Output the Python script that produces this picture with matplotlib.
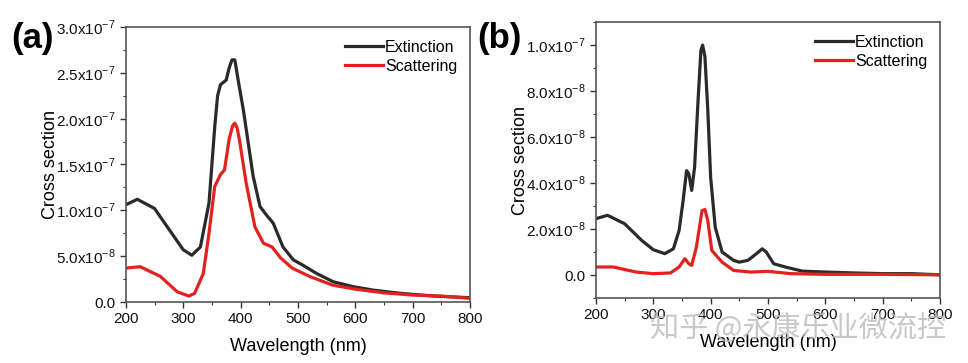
import matplotlib.pyplot as plt
from matplotlib.ticker import MultipleLocator

plt.rcParams['font.family'] = ['Liberation Sans', 'DejaVu Sans']
plt.rcParams['mathtext.fontset'] = 'custom'
plt.rcParams['mathtext.rm'] = 'Liberation Sans'

# panel (a) data, cross sections in units of 1e-7
wl_a_ext = [200, 220, 250, 280, 300, 315, 330, 345, 355, 360, 365, 375, 380, 385, 390, 395, 405, 422, 434,
            445, 457, 474, 492, 509, 533, 562, 597, 631, 678, 736, 800]
ext_a = [1.06, 1.12, 1.02, 0.75, 0.57, 0.51, 0.60, 1.08, 1.91, 2.25, 2.37, 2.42, 2.55, 2.64, 2.64, 2.45, 2.09,
         1.37, 1.04, 0.95, 0.86, 0.60, 0.46, 0.40, 0.31, 0.22, 0.167, 0.13, 0.095, 0.065, 0.047]
wl_a_sca = [200, 225, 260, 290, 310, 320, 335, 345, 355, 365, 372, 380, 386, 390, 394, 398, 410, 425,
            440, 455, 470, 490, 520, 560, 600, 650, 700, 750, 800]
sca_a = [0.37, 0.385, 0.28, 0.11, 0.065, 0.095, 0.31, 0.75, 1.26, 1.39, 1.44, 1.77, 1.92, 1.95, 1.90, 1.77,
         1.29, 0.82, 0.64, 0.60, 0.48, 0.37, 0.28, 0.185, 0.14, 0.10, 0.076, 0.065, 0.04]

# panel (b) data, cross sections in units of 1e-8
wl_b_ext = [200, 220, 250, 280, 300, 320, 335, 345, 352, 358, 362, 367, 372, 378, 383, 386, 390, 395,
            400, 408, 420, 440, 450, 465, 480, 490, 497, 510, 530, 560, 600, 650, 700, 750, 800]
ext_b = [2.45, 2.6, 2.23, 1.5, 1.1, 0.93, 1.14, 1.94, 3.24, 4.54, 4.4, 3.68, 4.69, 7.58, 9.77, 10.0, 9.5, 7.2,
         4.25, 2.08, 1.0, 0.64, 0.56, 0.64, 0.93, 1.14, 1.0, 0.49, 0.35, 0.17, 0.13, 0.09, 0.06, 0.06, 0.01]
wl_b_sca = [200, 230, 270, 300, 330, 345, 355, 362, 367, 375, 385, 390, 395, 402, 420, 440, 470,
            500, 540, 600, 700, 800]
sca_b = [0.35, 0.35, 0.13, 0.06, 0.09, 0.35, 0.71, 0.49, 0.42, 1.2, 2.8, 2.85, 2.37, 1.07, 0.56, 0.2, 0.13,
         0.16, 0.06, 0.03, 0.03, 0.01]

yticks_a = [0, 0.5e-7, 1.0e-7, 1.5e-7, 2.0e-7, 2.5e-7, 3.0e-7]
ylabels_a = ['0.0', r'5.0x10$^{-8}$', r'1.0x10$^{-7}$', r'1.5x10$^{-7}$',
             r'2.0x10$^{-7}$', r'2.5x10$^{-7}$', r'3.0x10$^{-7}$']
yticks_b = [0, 2e-8, 4e-8, 6e-8, 8e-8, 1e-7]
ylabels_b = ['0.0', r'2.0x10$^{-8}$', r'4.0x10$^{-8}$', r'6.0x10$^{-8}$',
             r'8.0x10$^{-8}$', r'1.0x10$^{-7}$']
xticks = [200, 300, 400, 500, 600, 700, 800]

black = '#2a2a2a'
red = '#e3211f'

fig = plt.figure(figsize=(9.68, 3.63), dpi=100)
ax1 = fig.add_axes([0.130, 0.168, 0.3555, 0.758])
ax2 = fig.add_axes([0.6157, 0.179, 0.3553, 0.760])


def style(ax, yticks, ylabels, ylim):
    ax.set_xlim(200, 800)
    ax.set_ylim(*ylim)
    ax.set_xticks(xticks)
    ax.xaxis.set_minor_locator(MultipleLocator(50))
    ax.set_yticks(yticks)
    ax.set_yticklabels(ylabels)
    step = yticks[1] - yticks[0]
    ax.yaxis.set_minor_locator(MultipleLocator(step / 2))
    ax.tick_params(which='major', direction='out', length=4, width=1, labelsize=11, colors='#333333',
                   labelcolor='#111111')
    ax.tick_params(which='minor', direction='out', length=2.5, width=0.8, colors='#333333')
    for s in ax.spines.values():
        s.set_color('#555555')
        s.set_linewidth(1.2)
    ax.set_xlabel('Wavelength (nm)', fontsize=13, labelpad=8)
    ax.set_ylabel('Cross section', fontsize=13, labelpad=-2)
    ax.legend(loc='upper right', frameon=False, fontsize=11.5, handlelength=2.4,
              handletextpad=0.1, labelspacing=0.25, borderaxespad=0.4)


ax1.plot(wl_a_ext, [v * 1e-7 for v in ext_a], color=black, lw=2.3, label='Extinction')
ax1.plot(wl_a_sca, [v * 1e-7 for v in sca_a], color=red, lw=2.3, label='Scattering')
style(ax1, yticks_a, ylabels_a, (0, 3.0e-7))

ax2.plot(wl_b_ext, [v * 1e-8 for v in ext_b], color=black, lw=2.3, label='Extinction')
ax2.plot(wl_b_sca, [v * 1e-8 for v in sca_b], color=red, lw=2.3, label='Scattering')
style(ax2, yticks_b, ylabels_b, (-1e-8, 1.1e-7))

fig.text(0.012, 0.868, '(a)', fontsize=25, fontweight='bold')
fig.text(0.493, 0.868, '(b)', fontsize=25, fontweight='bold')

# watermark
fig.text(0.672, 0.07, '知乎 @永康乐业微流控', fontsize=21, color='#bbbbbb', alpha=0.8,
         family=['Noto Sans CJK SC', 'DejaVu Sans'])

fig.savefig('out.png', dpi=100)
